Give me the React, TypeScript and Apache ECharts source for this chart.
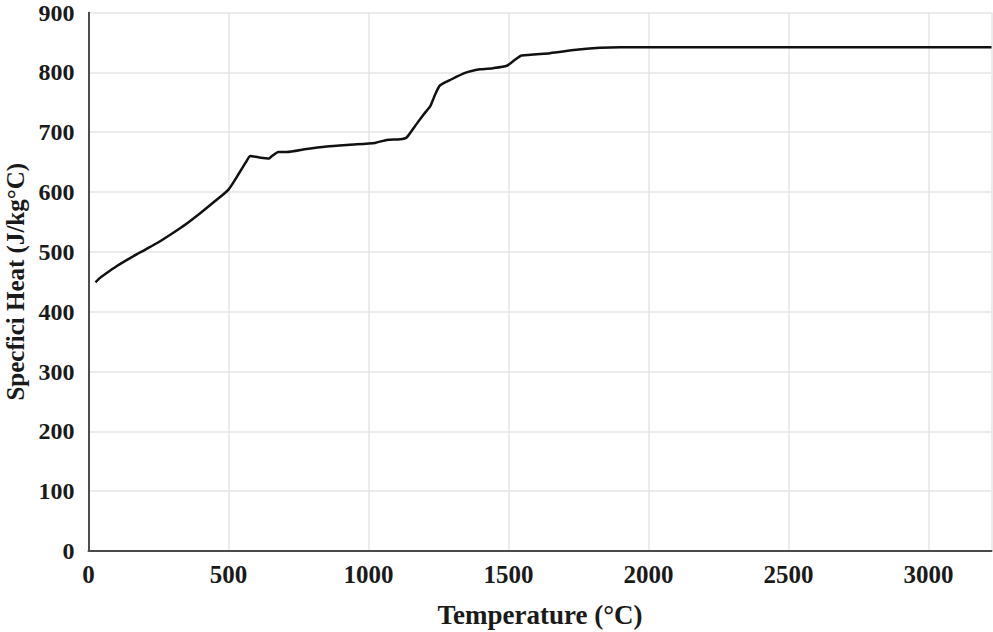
import React, { useEffect, useRef } from "react";
import * as echarts from "echarts";

const temperature = [25, 40, 60, 100, 150, 200, 250, 300, 350, 400, 450, 500, 540, 565, 578, 606, 645, 655, 678, 708, 779, 851, 934, 1023, 1065, 1113, 1136, 1166, 1196, 1220, 1226, 1238, 1255, 1291, 1345, 1398, 1446, 1494, 1523, 1547, 1648, 1750, 1827, 1900, 2500, 3225];
const specificHeat = [449, 456, 463, 476, 490, 503, 516, 531, 547, 565, 584, 604, 633, 652, 660, 658, 656, 660, 667, 667, 672, 676, 679, 682, 687, 688, 691, 710, 729, 743, 749, 763, 778, 787, 799, 805, 807, 811, 821, 828, 832, 838, 841, 842, 842, 842];

const xTitle = "Temperature (°C)";
const yTitle = "Specfici Heat (J/kg°C)";

export default function App() {
  const ref = useRef<HTMLDivElement>(null);
  useEffect(() => {
    if (!ref.current) return;
    const chart = echarts.init(ref.current, undefined, { renderer: "svg" });
    const font = "'Liberation Serif', 'Times New Roman', serif";
    chart.setOption({
      animation: false,
      backgroundColor: "#ffffff",
      grid: { left: 88.5, right: 1.5, top: 12.5, bottom: 81, containLabel: false, outerBoundsMode: "none" },
      xAxis: {
        type: "value",
        min: 0,
        max: 3225,
        interval: 500,
        name: xTitle,
        nameLocation: "middle",
        nameGap: 50,
        nameTextStyle: { fontFamily: font, fontWeight: "bold", fontSize: 27, color: "#1a1a1a" },
        axisLine: { show: true, lineStyle: { color: "#4a4a4a", width: 2 } },
        axisTick: { show: false },
        axisLabel: {
          fontFamily: font, fontWeight: "bold", fontSize: 25, color: "#1a1a1a", margin: 11,
          showMaxLabel: false,
          formatter: (v: number) => String(v),
        },
        splitLine: { show: true, lineStyle: { color: "#e6e6e6", width: 1.5 } },
      },
      yAxis: {
        type: "value",
        min: 0,
        max: 900,
        interval: 100,
        name: yTitle,
        nameLocation: "middle",
        nameGap: 61,
        nameTextStyle: { fontFamily: font, fontWeight: "bold", fontSize: 25, color: "#1a1a1a" },
        axisLine: { show: true, lineStyle: { color: "#1a1a1a", width: 1.5 } },
        axisTick: { show: false },
        axisLabel: {
          fontFamily: font, fontWeight: "bold", fontSize: 24, color: "#1a1a1a", margin: 14,
          formatter: (v: number) => String(v),
        },
        splitLine: { show: true, lineStyle: { color: "#e6e6e6", width: 1.5 } },
      },
      series: [
        {
          type: "line",
          data: temperature.map((t, i) => [t, specificHeat[i]]),
          showSymbol: false,
          smooth: 0.2,
          lineStyle: { color: "#111111", width: 2.5 },
        },
      ],
    });
    return () => chart.dispose();
  }, []);
  return <div ref={ref} style={{ width: 993, height: 632, position: "absolute", left: 0, top: 0 }} />;
}
